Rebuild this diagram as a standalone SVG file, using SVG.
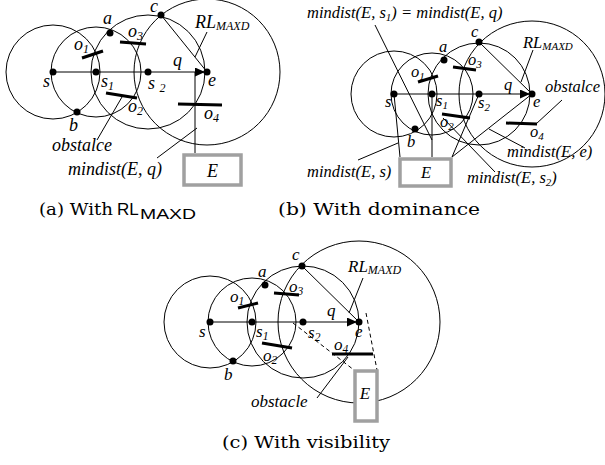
<svg xmlns="http://www.w3.org/2000/svg" width="605" height="465" viewBox="0 0 605 465">
<defs>
<style>
.cir{fill:none;stroke:#000;stroke-width:1}
.ln{fill:none;stroke:#000;stroke-width:1}
.dash{fill:none;stroke:#000;stroke-width:1;stroke-dasharray:4 3}
.obs{stroke:#000;stroke-width:3;stroke-linecap:butt}
.box{fill:#fff;stroke:#a0a0a0;stroke-width:3.5}
.dot{fill:#000}
.t{font-family:"Liberation Serif","Times New Roman",serif;font-style:italic;fill:#000}
.ta{font-size:18px}
.tb{font-size:16.5px}
.tc{font-size:17px}
.cap{font-family:"DejaVu Serif",serif;font-size:17px;fill:#000}
.sans{font-family:"Liberation Sans",Arial,sans-serif;fill:#000}
</style>
<marker id="arr" markerUnits="userSpaceOnUse" markerWidth="11" markerHeight="10" refX="10" refY="4.5" orient="auto">
<path d="M0,0 L10,4.5 L0,9 z" fill="#000"/>
</marker>
</defs>
<rect width="605" height="465" fill="#fff"/>

<!-- ===== Panel (a) ===== -->
<g id="panel-a">
<g id="a-circles">
<circle class="cir" cx="53" cy="72" r="47"/>
<circle class="cir" cx="96" cy="72" r="45"/>
<circle class="cir" cx="148" cy="72" r="57"/>
<circle class="cir" cx="207" cy="72" r="73"/>
</g>
<g id="a-connectors">
<line class="ln" x1="53" y1="72" x2="205" y2="72" marker-end="url(#arr)"/>
<line class="ln" x1="161" y1="15" x2="207" y2="72"/>
<line class="ln" x1="195" y1="72" x2="195" y2="153"/>
<line class="ln" x1="207" y1="32" x2="195" y2="57"/>
<line class="ln" x1="97" y1="140" x2="122" y2="97"/>
<line class="ln" x1="157" y1="158" x2="197" y2="128"/>
</g>
<g id="a-o1"><line class="obs" x1="82" y1="58" x2="103" y2="51"/><text class="t ta" x="74" y="50">o<tspan font-size="12" dy="3">1</tspan></text></g>
<g id="a-o3"><line class="obs" x1="120" y1="42" x2="146" y2="44"/><text class="t ta" x="128" y="37">o<tspan font-size="12" dy="3">3</tspan></text></g>
<g id="a-o2"><line class="obs" x1="106" y1="93" x2="137" y2="98"/><text class="t ta" x="128" y="112">o<tspan font-size="12" dy="3">2</tspan></text></g>
<g id="a-o4"><line class="obs" x1="178" y1="104" x2="222" y2="105"/><text class="t ta" x="204" y="119">o<tspan font-size="12" dy="3">4</tspan></text></g>
<g id="a-s"><circle class="dot" cx="53" cy="72" r="3.5"/><text class="t ta" x="43" y="87">s</text></g>
<g id="a-s1"><circle class="dot" cx="96" cy="72" r="3.5"/><text class="t ta" x="101" y="87">s<tspan font-size="12" dy="3">1</tspan></text></g>
<g id="a-s2"><circle class="dot" cx="148" cy="72" r="3.5"/><text class="t ta" x="148" y="89">s <tspan font-size="12" dy="3">2</tspan></text></g>
<g id="a-e"><circle class="dot" cx="207" cy="72" r="3.5"/><text class="t ta" x="208" y="86">e</text></g>
<g id="a-a"><circle class="dot" cx="110" cy="33" r="3.5"/><text class="t ta" x="103" y="24">a</text></g>
<g id="a-b"><circle class="dot" cx="77" cy="112" r="3.5"/><text class="t ta" x="69" y="131">b</text></g>
<g id="a-c"><circle class="dot" cx="161" cy="15" r="3.5"/><text class="t ta" x="150" y="12">c</text></g>
<g id="a-E"><rect class="box" x="184" y="155" width="57" height="30"/><text class="t ta" x="212.5" y="177" text-anchor="middle">E</text></g>
<text class="t ta" x="173" y="66">q</text>
<text class="t ta" x="195" y="28">RL<tspan font-size="12" dy="2">MAXD</tspan></text>
<text class="t ta" x="52" y="151">obstalce</text>
<text class="t ta" x="68" y="175">mindist(E, q)</text>
</g>

<!-- ===== Panel (b) ===== -->
<g id="panel-b">
<g id="b-circles">
<circle class="cir" cx="394" cy="94" r="43"/>
<circle class="cir" cx="432" cy="94" r="41"/>
<circle class="cir" cx="479" cy="94" r="51"/>
<circle class="cir" cx="532" cy="94" r="73"/>
</g>
<g id="b-connectors">
<line class="ln" x1="394" y1="94" x2="530" y2="94" marker-end="url(#arr)"/>
<line class="ln" x1="479" y1="42" x2="532" y2="94"/>
<line class="ln" x1="394" y1="94" x2="400" y2="157"/>
<line class="ln" x1="432" y1="94" x2="432" y2="157"/>
<line class="ln" x1="479" y1="94" x2="452" y2="157"/>
<line class="ln" x1="532" y1="94" x2="452" y2="157"/>
<line class="ln" x1="533" y1="50" x2="521" y2="82"/>
<line class="ln" x1="562" y1="100" x2="536" y2="124"/>
<line class="ln" x1="375" y1="25" x2="432" y2="140"/>
<line class="ln" x1="358" y1="160" x2="398" y2="143"/>
<line class="ln" x1="525" y1="148" x2="489" y2="129"/>
<line class="ln" x1="495" y1="172" x2="443" y2="118"/>
</g>
<g id="b-o1"><line class="obs" x1="418" y1="82" x2="438" y2="76"/><text class="t tb" x="411" y="77">o<tspan font-size="11" dy="3">1</tspan></text></g>
<g id="b-o3"><line class="obs" x1="453" y1="67" x2="476" y2="70"/><text class="t tb" x="468" y="65">o<tspan font-size="11" dy="3">3</tspan></text></g>
<g id="b-o2"><line class="obs" x1="442" y1="114" x2="470" y2="118"/><text class="t tb" x="440" y="127">o<tspan font-size="11" dy="3">2</tspan></text></g>
<g id="b-o4"><line class="obs" x1="506" y1="123" x2="537" y2="124"/><text class="t tb" x="530" y="137">o<tspan font-size="11" dy="3">4</tspan></text></g>
<g id="b-s"><circle class="dot" cx="394" cy="94" r="3.5"/><text class="t tb" x="385" y="107">s</text></g>
<g id="b-s1"><circle class="dot" cx="432" cy="94" r="3.5"/><text class="t tb" x="436" y="106">s<tspan font-size="11" dy="3">1</tspan></text></g>
<g id="b-s2"><circle class="dot" cx="479" cy="94" r="3.5"/><text class="t tb" x="478" y="108">s<tspan font-size="11" dy="3">2</tspan></text></g>
<g id="b-e"><circle class="dot" cx="532" cy="94" r="3.5"/><text class="t tb" x="533" y="107">e</text></g>
<g id="b-a"><circle class="dot" cx="444" cy="60" r="3.5"/><text class="t tb" x="439" y="52">a</text></g>
<g id="b-b"><circle class="dot" cx="415" cy="129" r="3.5"/><text class="t tb" x="407" y="147">b</text></g>
<g id="b-c"><circle class="dot" cx="479" cy="42" r="3.5"/><text class="t tb" x="471" y="37">c</text></g>
<g id="b-E"><rect class="box" x="400" y="159" width="51" height="27"/><text class="t tb" x="426" y="178" text-anchor="middle">E</text></g>
<text class="t tb" x="504" y="90">q</text>
<text class="t tb" x="523" y="48">RL<tspan font-size="11" dy="2">MAXD</tspan></text>
<text class="t tb" x="545" y="92">obstalce</text>
<text class="t tb" x="307" y="18">mindist(E, s<tspan font-size="11" dy="3">1</tspan><tspan dy="-3">) = mindist(E, q)</tspan></text>
<text class="t tb" x="307" y="177">mindist(E, s)</text>
<text class="t tb" x="507" y="157">mindist(E, e)</text>
<text class="t tb" x="467" y="183">mindist(E, s<tspan font-size="11" dy="3">2</tspan><tspan dy="-3">)</tspan></text>
</g>

<!-- ===== Panel (c) ===== -->
<g id="panel-c">
<g id="c-circles">
<circle class="cir" cx="210" cy="322" r="46"/>
<circle class="cir" cx="252" cy="322" r="44"/>
<circle class="cir" cx="303" cy="322" r="56"/>
<circle class="cir" cx="359" cy="322" r="81"/>
</g>
<g id="c-connectors">
<line class="ln" x1="210" y1="322" x2="357" y2="322" marker-end="url(#arr)"/>
<line class="ln" x1="302" y1="266" x2="359" y2="322"/>
<line class="dash" x1="293" y1="323" x2="354" y2="370"/>
<line class="dash" x1="366" y1="313" x2="377" y2="370"/>
<line class="ln" x1="363" y1="278" x2="349" y2="313"/>
<line class="ln" x1="317" y1="398" x2="348" y2="357"/>
</g>
<g id="c-o1"><line class="obs" x1="238" y1="308" x2="258" y2="303"/><text class="t tc" x="230" y="302">o<tspan font-size="11.5" dy="3">1</tspan></text></g>
<g id="c-o3"><line class="obs" x1="274" y1="293" x2="299" y2="295"/><text class="t tc" x="289" y="292">o<tspan font-size="11.5" dy="3">3</tspan></text></g>
<g id="c-o2"><line class="obs" x1="262" y1="343" x2="292" y2="348"/><text class="t tc" x="263" y="361">o<tspan font-size="11.5" dy="3">2</tspan></text></g>
<g id="c-o4"><line class="obs" x1="332" y1="354" x2="373" y2="354"/><text class="t tc" x="334" y="350">o<tspan font-size="11.5" dy="3">4</tspan></text></g>
<g id="c-s"><circle class="dot" cx="210" cy="322" r="3.5"/><text class="t tc" x="199" y="337">s</text></g>
<g id="c-s1"><circle class="dot" cx="252" cy="322" r="3.5"/><text class="t tc" x="256" y="337">s<tspan font-size="11.5" dy="3">1</tspan></text></g>
<g id="c-s2"><circle class="dot" cx="303" cy="322" r="3.5"/><text class="t tc" x="308" y="338">s<tspan font-size="11.5" dy="3">2</tspan></text></g>
<g id="c-e"><circle class="dot" cx="359" cy="322" r="3.5"/><text class="t tc" x="355" y="337">e</text></g>
<g id="c-a"><circle class="dot" cx="265" cy="285" r="3.5"/><text class="t tc" x="258" y="277">a</text></g>
<g id="c-b"><circle class="dot" cx="233" cy="361" r="3.5"/><text class="t tc" x="224" y="380">b</text></g>
<g id="c-c"><circle class="dot" cx="302" cy="266" r="3.5"/><text class="t tc" x="292" y="260">c</text></g>
<g id="c-E"><rect class="box" x="355" y="371" width="22" height="50"/><text class="t tc" x="365" y="399" text-anchor="middle">E</text></g>
<text class="t tc" x="327" y="316">q</text>
<text class="t tc" x="348" y="272">RL<tspan font-size="12" dy="2">MAXD</tspan></text>
<text class="t tc" x="251" y="407">obstacle</text>
</g>

<!-- ===== Captions ===== -->
<g id="captions">
<text class="cap" x="39" y="215" textLength="74" lengthAdjust="spacingAndGlyphs">(a) With</text>
<text class="sans" x="117" y="215" font-size="17">RL</text>
<text class="sans" x="140" y="219" font-size="14" textLength="56" lengthAdjust="spacingAndGlyphs">MAXD</text>
<text class="cap" x="278" y="215" textLength="202" lengthAdjust="spacingAndGlyphs">(b) With dominance</text>
<text class="cap" x="222" y="448" textLength="168" lengthAdjust="spacingAndGlyphs">(c) With visibility</text>
</g>
</svg>
